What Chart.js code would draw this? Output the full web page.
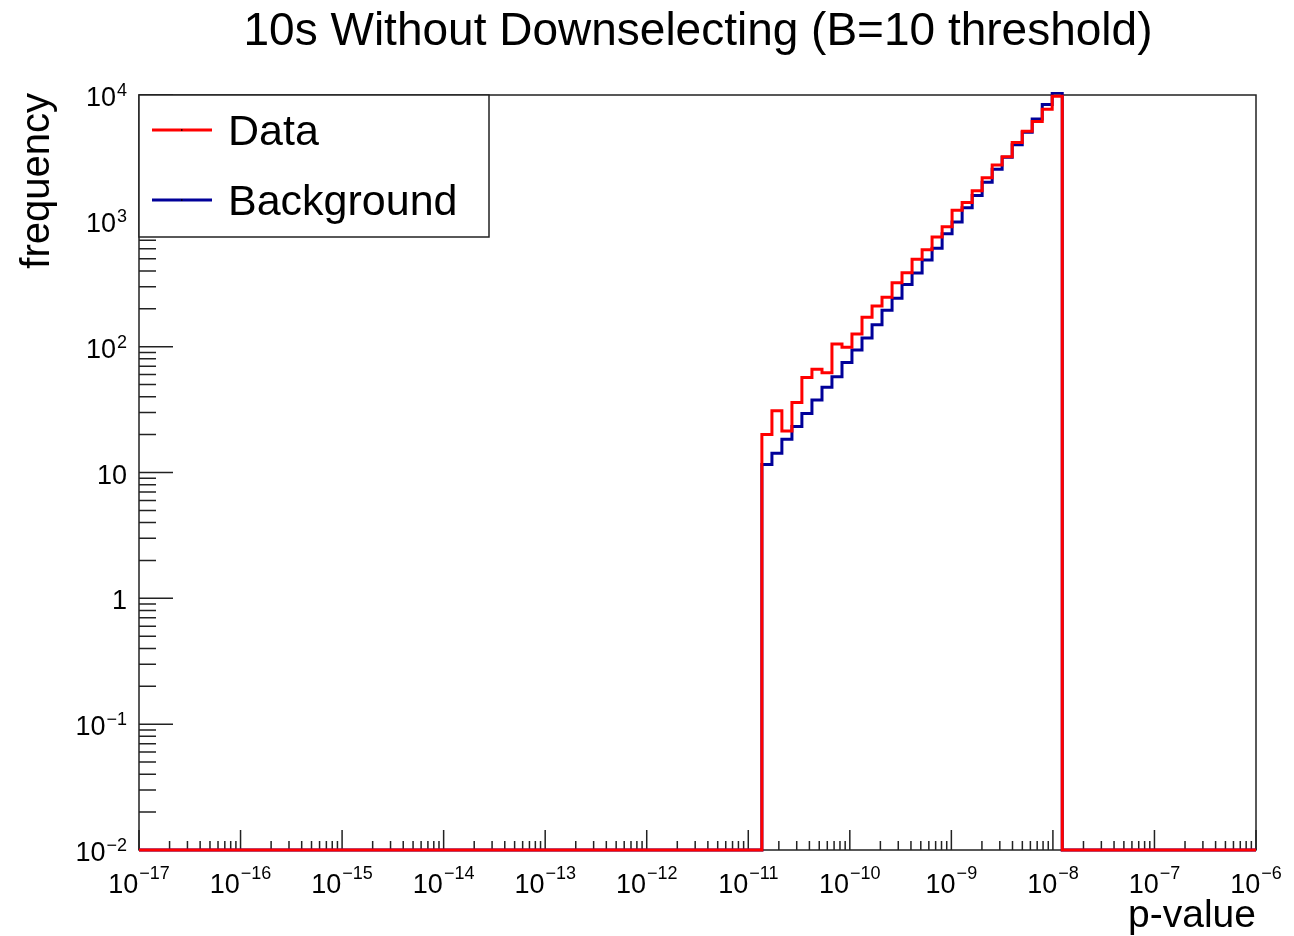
<!DOCTYPE html>
<html><head><meta charset="utf-8">
<script src="https://cdn.jsdelivr.net/npm/chart.js@4.4.0/dist/chart.umd.min.js"></script>
<style>html,body{margin:0;padding:0;background:#fff;overflow:hidden}#wrap{width:1294px;height:936px;position:relative}</style>
</head><body><div id="wrap"><canvas id="c" width="1294" height="936"></canvas></div>
<script>
const titleText = "10s Without Downselecting (B=10 threshold)";
const xTitle = "p-value";
const yTitle = "frequency";
const seriesNames = ["Data", "Background"];
const seriesColors = ["#ff0000", "#000099"];

// histogram bin edges (log10 of p-value)
const binEdgeExponents = [-10.866,-10.767,-10.669,-10.570,-10.472,-10.373,-10.274,-10.176,-10.077,-9.979,
  -9.880,-9.781,-9.683,-9.584,-9.486,-9.387,-9.288,-9.190,-9.091,-8.993,
  -8.894,-8.795,-8.697,-8.598,-8.500,-8.401,-8.302,-8.204,-8.105,-8.007,-7.908];
const dataCounts = [20,31,21.4,36,57,66,62,105,99,126,
  171,210,247,322,387,494,590,745,898,1215,
  1400,1738,2200,2780,3236,4200,5150,6170,7700,9760];
const backgroundCounts = [11.6,14.2,18.4,23.2,29.5,37.7,47.5,57.7,75,94,
  117,149,195,242,312,385,489,605,790,980,
  1270,1590,2030,2570,3200,4020,5050,6450,8400,10400];

const xDecades = [-17,-16,-15,-14,-13,-12,-11,-10,-9,-8,-7,-6];
const yDecades = [-2,-1,0,1,2,3,4];
const yTickBase = ["10","10","1","10","10","10","10"];
const yTickExp = ["\u22122","\u22121","","","2","3","4"];
const xMin = 1e-17, xMax = 1e-6, yMin = 1e-2, yMax = 1e4;

function histPoints(counts) {
  const pts = [{x: xMin, y: yMin}];
  const edges = binEdgeExponents.map(e => Math.pow(10, e));
  pts.push({x: edges[0], y: yMin});
  for (let i = 0; i < counts.length; i++) {
    pts.push({x: edges[i], y: counts[i]});
    pts.push({x: edges[i + 1], y: counts[i]});
  }
  pts.push({x: edges[edges.length - 1], y: yMin});
  pts.push({x: xMax, y: yMin});
  return pts;
}

const FONT = '"Liberation Sans", Arial, Helvetica, sans-serif';
const AXIS = '#222';

const rootPlugin = {
  id: 'rootStyle',
  beforeDatasetsDraw(chart) {
    const ctx = chart.ctx, a = chart.chartArea;
    const xs = chart.scales.x, ys = chart.scales.y;
    ctx.save();
    ctx.strokeStyle = AXIS;
    ctx.lineWidth = 1.5;
    ctx.strokeRect(a.left, a.top, a.right - a.left, a.bottom - a.top);
    ctx.beginPath();
    for (let d = 0; d < xDecades.length; d++) {
      const base = Math.pow(10, xDecades[d]);
      const px = xs.getPixelForValue(base);
      ctx.moveTo(px, a.bottom); ctx.lineTo(px, a.bottom - 20);
      if (d < xDecades.length - 1) {
        for (let m = 2; m <= 9; m++) {
          const p = xs.getPixelForValue(base * m);
          ctx.moveTo(p, a.bottom); ctx.lineTo(p, a.bottom - 9);
        }
      }
    }
    for (let d = 0; d < yDecades.length; d++) {
      const base = Math.pow(10, yDecades[d]);
      const py = ys.getPixelForValue(base);
      ctx.moveTo(a.left, py); ctx.lineTo(a.left + 34, py);
      if (d < yDecades.length - 1) {
        for (let m = 2; m <= 9; m++) {
          const p = ys.getPixelForValue(base * m);
          ctx.moveTo(a.left, p); ctx.lineTo(a.left + 17, p);
        }
      }
    }
    ctx.stroke();
    ctx.restore();
  },
  afterDraw(chart) {
    const ctx = chart.ctx, a = chart.chartArea;
    const xs = chart.scales.x, ys = chart.scales.y;
    ctx.save();
    ctx.fillStyle = '#000';
    ctx.textBaseline = 'alphabetic';
    for (let d = 0; d < xDecades.length; d++) {
      const px = xs.getPixelForValue(Math.pow(10, xDecades[d]));
      const exp = (xDecades[d] < 0 ? "\u2212" : "") + Math.abs(xDecades[d]);
      ctx.font = '27px ' + FONT;
      const wb = ctx.measureText("10").width;
      ctx.font = '18px ' + FONT;
      const we = ctx.measureText(exp).width;
      const x0 = px - (wb + 1 + we) / 2;
      ctx.textAlign = 'left';
      ctx.font = '27px ' + FONT;
      ctx.fillText("10", x0, a.bottom + 43);
      ctx.font = '18px ' + FONT;
      ctx.fillText(exp, x0 + wb + 1, a.bottom + 29);
    }
    for (let d = 0; d < yDecades.length; d++) {
      const py = ys.getPixelForValue(Math.pow(10, yDecades[d]));
      const base = yTickBase[d], exp = yTickExp[d];
      const right = a.left - 12;
      ctx.textAlign = 'left';
      ctx.font = '18px ' + FONT;
      const we = exp ? ctx.measureText(exp).width + 1 : 0;
      ctx.font = '27px ' + FONT;
      const wb = ctx.measureText(base).width;
      const x0 = right - we - wb;
      ctx.fillText(base, x0, py + 11);
      if (exp) {
        ctx.font = '18px ' + FONT;
        ctx.fillText(exp, x0 + wb + 1, py + 1);
      }
    }
    ctx.textAlign = 'center';
    ctx.font = '46px ' + FONT;
    ctx.fillText(titleText, 698, 45);
    ctx.textAlign = 'right';
    ctx.font = '39px ' + FONT;
    ctx.fillText(xTitle, a.right, 927);
    ctx.save();
    ctx.translate(49, a.top - 2);
    ctx.rotate(-Math.PI / 2);
    ctx.textAlign = 'right';
    ctx.font = '40px ' + FONT;
    ctx.fillText(yTitle, 0, 0);
    ctx.restore();
    const lx = a.left, ly = a.top, lw = 350, lh = 142;
    ctx.fillStyle = '#fff';
    ctx.fillRect(lx, ly, lw, lh);
    ctx.strokeStyle = AXIS;
    ctx.lineWidth = 1.5;
    ctx.strokeRect(lx, ly, lw, lh);
    const rows = [130, 200];
    chart.data.datasets.forEach((ds, i) => {
      const y = rows[i];
      ctx.strokeStyle = ds.borderColor;
      ctx.lineWidth = 3;
      ctx.beginPath(); ctx.moveTo(152, y); ctx.lineTo(212, y); ctx.stroke();
      ctx.fillStyle = '#000';
      ctx.fillRect(181, y - 0.75, 1.5, 1.5);
      ctx.textAlign = 'left';
      ctx.font = '43px ' + FONT;
      ctx.fillText(ds.label, 228, y + 15);
    });
    ctx.restore();
  }
};

new Chart(document.getElementById('c'), {
  type: 'line',
  data: {
    datasets: [
      {label: seriesNames[0], data: histPoints(dataCounts), borderColor: seriesColors[0], borderWidth: 3, pointRadius: 0, fill: false, tension: 0, order: 0, clip: 3},
      {label: seriesNames[1], data: histPoints(backgroundCounts), borderColor: seriesColors[1], borderWidth: 3, pointRadius: 0, fill: false, tension: 0, order: 1, clip: 3}
    ]
  },
  options: {
    responsive: false,
    animation: false,
    devicePixelRatio: 1,
    layout: {padding: {left: 139, right: 38, top: 95, bottom: 86}},
    plugins: {legend: {display: false}, tooltip: {enabled: false}, title: {display: false}},
    scales: {
      x: {type: 'logarithmic', min: xMin, max: xMax, display: false},
      y: {type: 'logarithmic', min: yMin, max: yMax, display: false}
    }
  },
  plugins: [rootPlugin]
});
</script>
</body></html>
